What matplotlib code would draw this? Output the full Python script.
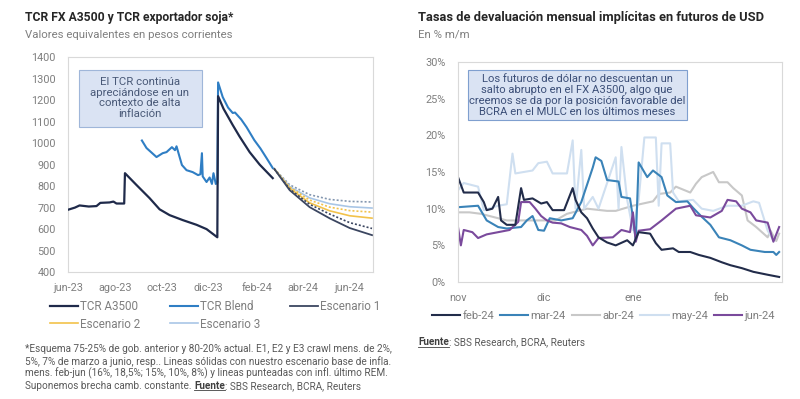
import matplotlib
matplotlib.use("Agg")
import matplotlib.pyplot as plt
import matplotlib.dates as mdates
from matplotlib.patches import Rectangle
from matplotlib.ticker import FuncFormatter
import pandas as pd

plt.rcParams["font.family"] = ["Roboto", "DejaVu Sans"]

MESES = ["ene", "feb", "mar", "abr", "may", "jun", "jul", "ago", "sep", "oct", "nov", "dic"]

# ---- left chart: TCR (pesos corrientes) ----
a3500_dates = ["2023-06-01", "2023-06-10", "2023-06-16", "2023-06-28", "2023-07-08", "2023-07-13",
               "2023-07-25", "2023-07-30", "2023-08-03", "2023-08-13", "2023-08-14", "2023-08-29",
               "2023-09-15", "2023-09-28", "2023-10-11", "2023-10-28", "2023-11-15", "2023-11-28",
               "2023-12-12", "2023-12-13", "2023-12-20", "2024-01-01", "2024-01-10", "2024-01-23",
               "2024-02-05", "2024-02-22"]
a3500_vals = [690, 700, 710, 705, 707, 722, 724, 728, 719, 719, 860, 805,
              744, 692, 665, 642, 620, 600,
              562, 1218, 1160, 1084, 1030, 958,
              900, 837]

blend_dates = ["2023-09-05", "2023-09-11", "2023-09-24", "2023-10-02", "2023-10-07", "2023-10-14",
               "2023-10-18", "2023-10-20", "2023-10-27", "2023-11-02", "2023-11-10", "2023-11-17",
               "2023-11-20", "2023-11-22", "2023-11-23", "2023-11-28", "2023-12-02", "2023-12-05",
               "2023-12-07", "2023-12-10", "2023-12-12", "2023-12-13", "2023-12-19", "2023-12-26",
               "2024-01-01", "2024-01-04", "2024-01-07", "2024-01-12", "2024-01-19", "2024-01-29",
               "2024-02-06", "2024-02-14", "2024-02-22"]
blend_vals = [1012, 977, 935, 953, 958, 981,
              967, 985, 898, 874, 865, 851,
              855, 953, 845, 819, 840, 810,
              860, 810, 815, 1282, 1214, 1165,
              1140, 1142, 1130, 1110, 1074, 1014,
              975, 930, 884]

esc_dates = ["2024-02-24", "2024-03-15", "2024-04-10", "2024-05-06", "2024-06-01", "2024-06-30"]
esc1_base = [880, 781, 702, 650, 605, 572]
esc1_rem = [880, 786, 715, 670, 630, 603]
esc2_base = [880, 790, 722, 685, 662, 651]
esc2_rem = [880, 795, 735, 702, 686, 679]
esc3_base = [880, 798, 745, 718, 704, 698]
esc3_rem = [880, 806, 760, 738, 729, 726]

# ---- right chart: devaluacion implicita en futuros (% m/m) ----
feb24_dates = ["2023-11-01", "2023-11-03", "2023-11-08", "2023-11-10", "2023-11-11", "2023-11-13",
               "2023-11-15", "2023-11-16", "2023-11-18", "2023-11-21", "2023-11-23", "2023-11-24",
               "2023-11-27", "2023-11-30", "2023-12-02", "2023-12-04", "2023-12-08", "2023-12-11",
               "2023-12-12", "2023-12-14", "2023-12-16", "2023-12-18", "2023-12-20", "2023-12-23",
               "2023-12-26", "2023-12-30", "2024-01-01", "2024-01-03", "2024-01-07", "2024-01-09",
               "2024-01-11", "2024-01-15", "2024-01-17", "2024-01-21", "2024-01-24", "2024-01-28",
               "2024-02-01", "2024-02-04", "2024-02-08", "2024-02-12", "2024-02-17", "2024-02-21"]
feb24_vals = [14.3, 12.2, 12.2, 10.9, 9.8, 10.0,
              11.6, 8.4, 7.8, 7.8, 12.8, 11.2,
              11.4, 10.7, 10.9, 9.8, 9.8, 12.8,
              11.2, 9.5, 8.7, 7.3, 6.1, 5.4,
              5.0, 5.7, 5.0, 6.8, 6.6, 5.3,
              4.4, 4.6, 4.1, 4.1, 3.7, 3.3,
              2.7, 2.3, 1.9, 1.4, 1.0, 0.7]

mar24_dates = ["2023-11-01", "2023-11-08", "2023-11-11", "2023-11-15", "2023-11-18", "2023-11-23",
               "2023-11-25", "2023-11-27", "2023-11-29", "2023-12-01", "2023-12-03", "2023-12-07",
               "2023-12-11", "2023-12-14", "2023-12-18", "2023-12-19", "2023-12-21", "2023-12-23",
               "2023-12-27", "2023-12-28", "2023-12-31", "2024-01-01", "2024-01-02", "2024-01-03",
               "2024-01-06", "2024-01-08", "2024-01-11", "2024-01-13", "2024-01-16", "2024-01-20",
               "2024-01-22", "2024-01-25", "2024-01-28", "2024-01-31", "2024-02-04", "2024-02-08",
               "2024-02-11", "2024-02-16", "2024-02-19", "2024-02-20", "2024-02-21"]
mar24_vals = [10.2, 10.4, 8.4, 7.5, 7.3, 7.5,
              8.4, 9.0, 7.1, 7.0, 8.7, 8.4,
              8.7, 10.9, 15.6, 17.0, 16.5, 13.9,
              13.7, 11.6, 11.4, 8.8, 5.7, 16.3,
              14.3, 15.2, 14.3, 11.8, 10.9, 11.0,
              10.1, 8.9, 7.8, 6.1, 5.7, 5.0,
              4.4, 4.1, 4.1, 3.7, 4.1]

abr24_dates = ["2023-11-01", "2023-11-05", "2023-11-09", "2023-11-18", "2023-11-27", "2023-12-05",
               "2023-12-09", "2023-12-16", "2023-12-23", "2023-12-26", "2024-01-01", "2024-01-08",
               "2024-01-10", "2024-01-14", "2024-01-16", "2024-01-21", "2024-01-23", "2024-01-25",
               "2024-01-29", "2024-01-31", "2024-02-03", "2024-02-05", "2024-02-08", "2024-02-10",
               "2024-02-13", "2024-02-17", "2024-02-18", "2024-02-20", "2024-02-21"]
abr24_vals = [9.5, 9.5, 9.3, 8.4, 8.4, 8.4,
              9.3, 10.0, 9.7, 9.7, 10.4, 11.0,
              12.0, 12.2, 13.0, 12.2, 13.4, 14.3,
              15.0, 13.6, 13.6, 12.8, 11.8, 8.4,
              7.5, 6.1, 7.0, 5.6, 6.6]

may24_dates = ["2023-11-01", "2023-11-03", "2023-11-08", "2023-11-10", "2023-11-15", "2023-11-18",
               "2023-11-20", "2023-11-21", "2023-11-27", "2023-11-29", "2023-12-02", "2023-12-04",
               "2023-12-09", "2023-12-11", "2023-12-12", "2023-12-14", "2023-12-15", "2023-12-18",
               "2023-12-20", "2023-12-26", "2023-12-27", "2023-12-28", "2023-12-30", "2024-01-01",
               "2024-01-03", "2024-01-05", "2024-01-09", "2024-01-10", "2024-01-11", "2024-01-14",
               "2024-01-15", "2024-01-17", "2024-01-22", "2024-01-25", "2024-01-29", "2024-02-03",
               "2024-02-08", "2024-02-12", "2024-02-14", "2024-02-17", "2024-02-19"]
may24_vals = [12.5, 13.5, 13.0, 9.8, 10.4, 10.6,
              17.5, 14.8, 15.2, 16.2, 16.4, 14.8,
              14.8, 19.3, 10.0, 18.0, 10.0, 11.6,
              10.0, 17.0, 10.0, 18.4, 11.2, 7.1,
              11.2, 19.7, 19.7, 10.4, 18.9, 18.9,
              12.2, 11.0, 11.2, 10.0, 9.7, 10.4,
              10.4, 11.0, 10.8, 7.0, 5.7]

jun24_dates = ["2023-11-01", "2023-11-02", "2023-11-03", "2023-11-06", "2023-11-08", "2023-11-11",
               "2023-11-15", "2023-11-19", "2023-11-22", "2023-11-23", "2023-11-26", "2023-11-28",
               "2023-11-30", "2023-12-02", "2023-12-04", "2023-12-07", "2023-12-10", "2023-12-14",
               "2023-12-16", "2023-12-18", "2023-12-20", "2023-12-25", "2023-12-28", "2023-12-31",
               "2024-01-01", "2024-01-02", "2024-01-03", "2024-01-07", "2024-01-11", "2024-01-16",
               "2024-01-21", "2024-01-23", "2024-01-28", "2024-02-01", "2024-02-03", "2024-02-06",
               "2024-02-08", "2024-02-11", "2024-02-13", "2024-02-17", "2024-02-19", "2024-02-21"]
jun24_vals = [7.5, 5.0, 7.1, 6.8, 6.0, 6.5,
              6.8, 7.1, 8.2, 10.9, 10.9, 10.0,
              9.0, 8.4, 8.1, 8.0, 7.5, 7.1,
              6.3, 5.0, 6.0, 6.1, 7.1, 6.8,
              9.5, 5.5, 7.0, 7.2, 8.4, 10.0,
              10.4, 9.1, 8.8, 9.7, 11.2, 11.0,
              10.0, 9.5, 8.4, 8.1, 5.5, 7.5]

NAVY = "#1f2a4a"
BLUE = "#2f7ec4"
E1 = "#3b4660"
E2 = "#f2c24a"
E3 = "#a9c6e6"
E3_DOT = "#8497b0"
GRAY_TXT = "#7f7f7f"
FRAME = "#d9d9d9"
FOOT = 7.2


def month_fmt(x, pos):
    d = mdates.num2date(x)
    return MESES[d.month - 1]


def month_year_fmt(x, pos):
    d = mdates.num2date(x)
    return f"{MESES[d.month - 1]}-{d.year % 100:02d}"


def style_axes(ax):
    for sp in ax.spines.values():
        sp.set_color(FRAME)
        sp.set_linewidth(0.8)
    ax.tick_params(length=0, labelsize=7.8, labelcolor=GRAY_TXT)


def dt(lst):
    return pd.to_datetime(lst)


def fuente(fig, x_px, y_px, prefix=None):
    """Footnote source line with bold underlined 'Fuente'."""
    y = 1 - y_px / 399
    x = x_px / 800
    if prefix:
        t0 = fig.text(x, y, prefix, fontsize=FOOT, color="#595959", va="center")
        fig.canvas.draw()
        x = t0.get_window_extent().x1 / 800
    t = fig.text(x, y, "Fuente", fontsize=FOOT, color="#404040", fontweight="bold", va="center")
    fig.canvas.draw()
    bb = t.get_window_extent()
    fig.add_artist(plt.Line2D([bb.x0 / 800, bb.x1 / 800], [(bb.y0 + 0.5) / 399] * 2,
                              color="#404040", lw=0.6, transform=fig.transFigure))
    fig.text(bb.x1 / 800, y, ": SBS Research, BCRA, Reuters", fontsize=FOOT,
             color="#595959", va="center")


fig = plt.figure(figsize=(8.0, 3.99), dpi=100)

# ================= left =================
ax1 = fig.add_axes([0.085, 0.318, 0.381, 0.539])
ax1.plot(dt(a3500_dates), a3500_vals, color=NAVY, lw=1.6, label="TCR A3500", zorder=4)
ax1.plot(dt(blend_dates), blend_vals, color=BLUE, lw=1.5, label="TCR Blend", zorder=3)
ax1.plot(dt(esc_dates), esc3_rem, color=E3_DOT, lw=1.2, ls=(0, (1.2, 1.2)))
ax1.plot(dt(esc_dates), esc3_base, color=E3, lw=1.2, label="Escenario 3")
ax1.plot(dt(esc_dates), esc2_rem, color=E2, lw=1.2, ls=(0, (1.2, 1.2)))
ax1.plot(dt(esc_dates), esc2_base, color=E2, lw=1.2, label="Escenario 2")
ax1.plot(dt(esc_dates), esc1_rem, color=E1, lw=1.2, ls=(0, (1.2, 1.2)))
ax1.plot(dt(esc_dates), esc1_base, color=E1, lw=1.3, label="Escenario 1")

ax1.set_ylim(400, 1400)
ax1.set_yticks(range(400, 1401, 100))
ax1.set_xlim(pd.Timestamp("2023-06-01"), pd.Timestamp("2024-07-01"))
ax1.xaxis.set_major_locator(mdates.MonthLocator(bymonth=[2, 4, 6, 8, 10, 12]))
ax1.xaxis.set_major_formatter(FuncFormatter(month_year_fmt))
style_axes(ax1)
ax1.tick_params(axis="y", pad=9)
ax1.tick_params(axis="x", pad=8)

h, l = ax1.get_legend_handles_labels()
order = [l.index(k) for k in ["TCR A3500", "Escenario 2", "TCR Blend", "Escenario 3", "Escenario 1"]]
fig.legend([h[i] for i in order], [l[i] for i in order], ncol=3, loc="upper left",
           bbox_to_anchor=(0.0625, 0.247), frameon=False, fontsize=8.4, handlelength=2.4,
           handletextpad=0.2, columnspacing=2.5, labelspacing=0.35, labelcolor=GRAY_TXT,
           borderaxespad=0, borderpad=0)

# annotation box left
fig.patches.append(Rectangle((79 / 800, 1 - 127 / 399), 123 / 800, 57 / 399,
                             transform=fig.transFigure, facecolor="#dae3f3",
                             edgecolor="#9fb6d9", lw=0.8, zorder=5))
fig.text(140 / 800, 1 - 98 / 399, "El TCR continúa\napreciándose en un\ncontexto de alta\ninflación",
         ha="center", va="center", fontsize=8.2, color="#4a5a78", linespacing=1.1, zorder=6)

fig.text(25 / 800, 1 - 18 / 399, "TCR FX A3500 y TCR exportador soja*", fontsize=8.7,
         fontweight="bold", color="#262626", va="center")
fig.text(25 / 800, 1 - 35 / 399, "Valores equivalentes en pesos corrientes", fontsize=8.2,
         color=GRAY_TXT, va="center")

foot_lines = [
    "*Esquema 75-25% de gob. anterior y 80-20% actual. E1, E2 y E3 crawl mens. de 2%,",
    "5%, 7% de marzo a junio, resp.. Lineas sólidas con nuestro escenario base de infla.",
    "mens. feb-jun (16%, 18,5%; 15%, 10%, 8%) y lineas punteadas con infl. último REM.",
]
for i, line in enumerate(foot_lines):
    fig.text(25 / 800, 1 - (349 + 12.3 * i) / 399, line, fontsize=FOOT, color="#595959", va="center")
fuente(fig, 25, 349 + 12.3 * 3, prefix="Suponemos brecha camb. constante. ")

# ================= right =================
ax2 = fig.add_axes([0.5725, 0.293, 0.405, 0.552])
ax2.plot(dt(abr24_dates), abr24_vals, color="#c8c8c8", lw=1.5, label="abr-24")
ax2.plot(dt(may24_dates), may24_vals, color="#cfdff0", lw=1.5, label="may-24")
ax2.plot(dt(mar24_dates), mar24_vals, color="#3a83b8", lw=1.5, label="mar-24")
ax2.plot(dt(jun24_dates), jun24_vals, color="#7a4a9c", lw=1.5, label="jun-24")
ax2.plot(dt(feb24_dates), feb24_vals, color="#222c4a", lw=1.5, label="feb-24")

ax2.set_ylim(0, 30)
ax2.set_yticks(range(0, 31, 5))
ax2.yaxis.set_major_formatter(FuncFormatter(lambda v, p: f"{v:.0f}%"))
ax2.set_xlim(pd.Timestamp("2023-11-01"), pd.Timestamp("2024-02-22"))
ax2.xaxis.set_major_locator(mdates.MonthLocator())
ax2.xaxis.set_major_formatter(FuncFormatter(month_fmt))
style_axes(ax2)
ax2.tick_params(axis="y", pad=9)
ax2.tick_params(axis="x", pad=8)

h2, l2 = ax2.get_legend_handles_labels()
order2 = [l2.index(k) for k in ["feb-24", "mar-24", "abr-24", "may-24", "jun-24"]]
fig.legend([h2[i] for i in order2], [l2[i] for i in order2], ncol=5, loc="upper left",
           bbox_to_anchor=(0.54, 0.221), frameon=False, fontsize=8.1, handlelength=2.5,
           handletextpad=0.2, columnspacing=0.55, labelcolor=GRAY_TXT,
           borderaxespad=0, borderpad=0)

fig.patches.append(Rectangle((468 / 800, 1 - 120 / 399), 219 / 800, 50 / 399,
                             transform=fig.transFigure, facecolor="#dae3f3",
                             edgecolor="#7f9fcf", lw=0.8, zorder=5))
fig.text(577 / 800, 1 - 95.5 / 399,
         "Los futuros de dólar no descuentan un\nsalto abrupto en el FX A3500, algo que\n"
         "creemos se da por la posición favorable del\nBCRA en el MULC en los últimos meses",
         ha="center", va="center", fontsize=8.1, color="#3c4f78", linespacing=1.12, zorder=6)

fig.text(418 / 800, 1 - 18 / 399, "Tasas de devaluación mensual implícitas en futuros de USD",
         fontsize=9.3, fontweight="bold", color="#262626", va="center")
fig.text(418 / 800, 1 - 35 / 399, "En % m/m", fontsize=8.2, color=GRAY_TXT, va="center")

fuente(fig, 418, 342)

fig.savefig("out.png", dpi=100, facecolor="white")
